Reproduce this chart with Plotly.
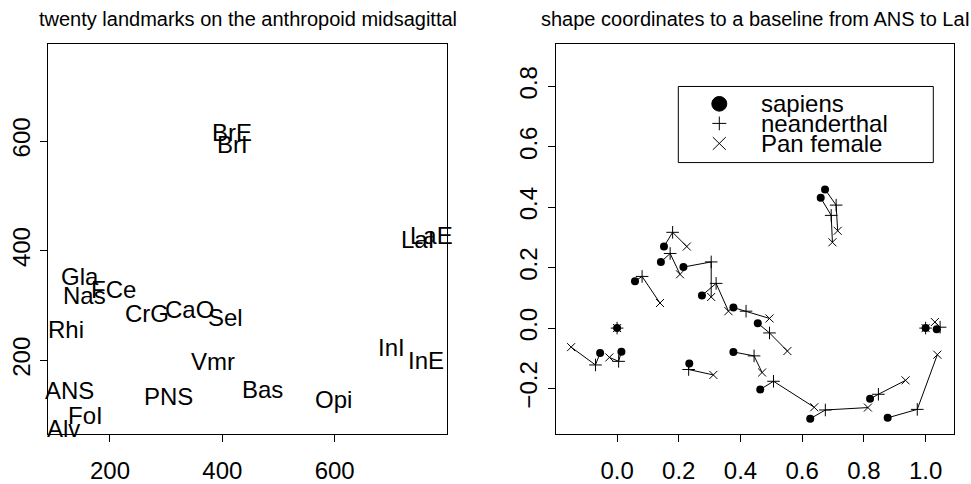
import plotly.graph_objects as go

# ---------------- data ----------------
landmarks = ["ANS", "Alv", "FoI", "Rhi", "Gla", "Nas", "FCe", "CrG", "CaO", "Sel",
             "Vmr", "PNS", "Bas", "Opi", "InI", "InE", "LaI", "LaE", "BrI", "BrE"]
raw_x = [127.9, 116.6, 156.1, 121.4, 146.3, 154.0, 205.6, 265.0, 342.1, 406.2,
         384.0, 305.0, 471.2, 598.2, 701.8, 763.2, 746.9, 773.0, 417.5, 417.5]
raw_y = [157.7, 89.3, 113.1, 269.0, 366.1, 330.4, 342.3, 297.6, 304.8, 291.7,
         211.3, 147.6, 159.5, 141.7, 236.9, 213.1, 433.9, 439.9, 606.5, 628.0]

sapiens_x = [0.0, -0.055, 0.014, 0.058, 0.152, 0.142, 0.215, 0.275, 0.377, 0.456,
             0.377, 0.234, 0.464, 0.626, 0.820, 0.877, 1.0, 1.036, 0.660, 0.674]
sapiens_y = [0.0, -0.082, -0.078, 0.155, 0.270, 0.219, 0.202, 0.108, 0.068, 0.016,
             -0.079, -0.117, -0.203, -0.300, -0.234, -0.297, 0.0, -0.004, 0.431, 0.459]
neand_x = [0.0, -0.070, 0.005, 0.081, 0.180, 0.172, 0.305, 0.321, 0.418, 0.494,
           0.444, 0.232, 0.507, 0.675, 0.847, 0.973, 1.0, 1.047, 0.694, 0.710]
neand_y = [0.0, -0.122, -0.110, 0.171, 0.317, 0.247, 0.219, 0.148, 0.056, -0.016,
           -0.092, -0.137, -0.176, -0.271, -0.219, -0.269, 0.0, 0.003, 0.373, 0.407]
pan_x = [0.0, -0.149, -0.025, 0.139, 0.226, 0.204, 0.305, 0.361, 0.494, 0.552,
         0.470, 0.312, 0.639, 0.813, 0.935, 1.038, 1.0, 1.030, 0.698, 0.715]
pan_y = [0.0, -0.063, -0.097, 0.083, 0.270, 0.178, 0.103, 0.056, 0.032, -0.076,
         -0.147, -0.155, -0.262, -0.263, -0.173, -0.088, 0.0, 0.020, 0.284, 0.322]

left_ticks = [200, 400, 600]
right_xticks = [0.0, 0.2, 0.4, 0.6, 0.8, 1.0]
right_xtext = ["0.0", "0.2", "0.4", "0.6", "0.8", "1.0"]
right_yticks = [-0.2, 0.0, 0.2, 0.4, 0.6, 0.8]
right_ytext = ["\u22120.2", "0.0", "0.2", "0.4", "0.6", "0.8"]

species = ["sapiens", "neanderthal", "Pan female"]
titles = ["twenty landmarks on the anthropoid midsagittal",
          "shape coordinates to a baseline from ANS to LaI"]

# ---------------- figure ----------------
W, H = 971, 484
FONT = "Liberation Sans, Arial, Helvetica, sans-serif"

def px(x):
    return x / W

def py(y):
    return 1 - y / H

fig = go.Figure()

# left panel: invisible anchor trace so the axes exist, labels via annotations
fig.add_trace(go.Scatter(x=raw_x, y=raw_y, mode="markers", text=landmarks,
                         marker=dict(size=1, opacity=0),
                         xaxis="x", yaxis="y", showlegend=False, hoverinfo="text"))
for name, lx, ly in zip(landmarks, raw_x, raw_y):
    fig.add_annotation(text=name, x=lx, y=ly, xref="x", yref="y",
                       xanchor="center", yanchor="middle", yshift=-7,
                       showarrow=False,
                       font=dict(size=24, color="black", family=FONT))

# right panel: connecting segments sapiens -> neanderthal -> Pan
seg_x, seg_y = [], []
for i in range(len(landmarks)):
    seg_x += [sapiens_x[i], neand_x[i], pan_x[i], None]
    seg_y += [sapiens_y[i], neand_y[i], pan_y[i], None]
fig.add_trace(go.Scatter(x=seg_x, y=seg_y, mode="lines",
                         line=dict(color="black", width=1),
                         xaxis="x2", yaxis="y2", showlegend=False, hoverinfo="skip"))

fig.add_trace(go.Scatter(x=sapiens_x, y=sapiens_y, mode="markers", name=species[0],
                         marker=dict(symbol="circle", size=8, color="black"),
                         xaxis="x2", yaxis="y2", showlegend=False))
fig.add_trace(go.Scatter(x=neand_x, y=neand_y, mode="markers", name=species[1],
                         marker=dict(symbol="cross-thin", size=9,
                                     line=dict(color="black", width=1)),
                         xaxis="x2", yaxis="y2", showlegend=False))
fig.add_trace(go.Scatter(x=pan_x, y=pan_y, mode="markers", name=species[2],
                         marker=dict(symbol="x-thin", size=8,
                                     line=dict(color="black", width=1)),
                         xaxis="x2", yaxis="y2", showlegend=False))

axis_common = dict(showgrid=False, zeroline=False, showline=True, mirror=True,
                   linecolor="black", linewidth=1, ticks="outside", ticklen=7,
                   tickwidth=1, tickcolor="black",
                   tickfont=dict(size=24, color="black", family=FONT))

xd1 = [px(48.3), px(446.7)]
xd2 = [px(556.0), px(954.3)]
yd = [py(442.7), py(45.0)]

fig.update_layout(
    width=W, height=H,
    margin=dict(l=0, r=0, t=0, b=0),
    paper_bgcolor="white", plot_bgcolor="white",
    font=dict(family=FONT, color="black"),
    xaxis=dict(domain=xd1, range=[90.2, 799.4], tickvals=left_ticks,
               anchor="y", ticklabelstandoff=9, **axis_common),
    yaxis=dict(domain=yd, range=[66.6, 776.8], tickvals=left_ticks,
               anchor="x", tickangle=-90, ticklabelstandoff=1, **axis_common),
    xaxis2=dict(domain=xd2, range=[-0.198, 1.093], tickvals=right_xticks,
                ticktext=right_xtext, anchor="y2", ticklabelstandoff=9, **axis_common),
    yaxis2=dict(domain=yd, range=[-0.349, 0.940], tickvals=right_yticks,
                ticktext=right_ytext, anchor="x2", tickangle=-90,
                ticklabelstandoff=1, **axis_common),
    showlegend=False,
)

# titles
for t, xc in zip(titles, [(48.3 + 446.7) / 2, (556.0 + 954.3) / 2]):
    fig.add_annotation(text=t, x=px(xc), y=py(19.5), xref="paper", yref="paper",
                       xanchor="center", yanchor="middle", showarrow=False,
                       font=dict(size=20, color="black", family=FONT))

# manual legend (R style, tight rows)
fig.add_shape(type="rect", xref="paper", yref="paper",
              x0=px(678.3), x1=px(933.3), y0=py(166.0), y1=py(88.3),
              line=dict(color="black", width=1), fillcolor="white", layer="above")
rows = [106.0, 126.0, 146.5]
sx = 719.3
r = 7.5
fig.add_shape(type="circle", xref="paper", yref="paper",
              x0=px(sx - r), x1=px(sx + r), y0=py(rows[0] + r), y1=py(rows[0] - r),
              line=dict(color="black", width=1), fillcolor="black", layer="above")
a = 7
fig.add_shape(type="line", xref="paper", yref="paper",
              x0=px(sx - a), x1=px(sx + a), y0=py(rows[1]), y1=py(rows[1]),
              line=dict(color="black", width=1), layer="above")
fig.add_shape(type="line", xref="paper", yref="paper",
              x0=px(sx), x1=px(sx), y0=py(rows[1] - a), y1=py(rows[1] + a),
              line=dict(color="black", width=1), layer="above")
b = 6.5
fig.add_shape(type="line", xref="paper", yref="paper",
              x0=px(sx - b), x1=px(sx + b), y0=py(rows[2] - b), y1=py(rows[2] + b),
              line=dict(color="black", width=1), layer="above")
fig.add_shape(type="line", xref="paper", yref="paper",
              x0=px(sx - b), x1=px(sx + b), y0=py(rows[2] + b), y1=py(rows[2] - b),
              line=dict(color="black", width=1), layer="above")
for name, ry in zip(species, rows):
    fig.add_annotation(text=name, x=px(759.0), y=py(ry), xref="paper", yref="paper",
                       xanchor="left", yanchor="middle", showarrow=False,
                       font=dict(size=24, color="black", family=FONT))

fig.write_html("out.html")
